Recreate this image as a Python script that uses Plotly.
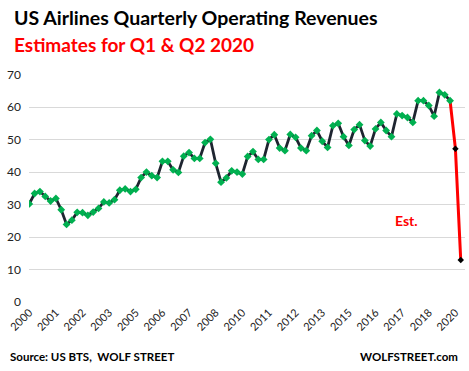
import plotly.graph_objects as go

# Quarterly categories 2000 Q1 .. 2020 Q2
years = list(range(2000, 2021))
quarters = [f"{y} Q{q}" for y in years for q in range(1, 5)][:82]

# Operating revenues, $ billions, 2000 Q1 .. 2019 Q4
revenues = [
    30.2, 33.4, 34.0, 32.5,   # 2000
    31.1, 31.9, 28.4, 23.9,   # 2001
    25.2, 27.6, 27.5, 26.7,   # 2002
    27.7, 28.8, 30.8, 30.5,   # 2003
    31.5, 34.4, 34.8, 34.0,   # 2004
    34.7, 38.3, 40.0, 38.9,   # 2005
    38.3, 43.3, 43.3, 40.7,   # 2006
    39.9, 44.9, 46.0, 44.2,   # 2007
    44.2, 49.1, 50.1, 42.7,   # 2008
    36.9, 38.2, 40.4, 40.0,   # 2009
    39.4, 44.8, 46.3, 43.9,   # 2010
    43.9, 50.0, 51.5, 47.4,   # 2011
    46.6, 51.6, 50.7, 47.4,   # 2012
    46.6, 51.2, 52.8, 49.5,   # 2013
    47.6, 54.3, 55.0, 50.9,   # 2014
    48.2, 53.1, 54.6, 49.7,   # 2015
    48.0, 53.3, 55.3, 52.8,   # 2016
    50.9, 57.9, 57.4, 56.8,   # 2017
    55.3, 62.0, 62.0, 60.5,   # 2018
    57.2, 64.5, 63.8, 62.0,   # 2019
]
# Estimates for 2020 Q1, Q2
estimates = [47.2, 12.9]

tick_text = ["2000", "2001", "2002", "2003", "2005", "2006", "2007", "2008",
             "2010", "2011", "2012", "2013", "2015", "2016", "2017", "2018", "2020"]
tick_vals = quarters[::5]

y_ticks = [0, 10, 20, 30, 40, 50, 60, 70]

n_act = len(revenues)
est_x = quarters[n_act - 1:n_act + len(estimates)]
est_y = [revenues[-1]] + estimates

FONT = "Lato"

fig = go.Figure()
fig.add_trace(go.Scatter(
    x=est_x, y=est_y, mode="lines",
    line=dict(color="#ff0000", width=3), hoverinfo="skip", showlegend=False,
    cliponaxis=False))
fig.add_trace(go.Scatter(
    x=quarters[:n_act], y=revenues, mode="lines+markers",
    line=dict(color="#1e2530", width=2.8),
    marker=dict(symbol="diamond", size=6, color="#00b050"),
    showlegend=False))
fig.add_trace(go.Scatter(
    x=quarters[n_act:n_act + len(estimates)], y=estimates, mode="markers",
    marker=dict(symbol="diamond", size=5, color="#000000"),
    showlegend=False, cliponaxis=False))

fig.update_layout(
    width=469, height=371,
    margin=dict(l=29, r=4, t=74, b=69),
    paper_bgcolor="white", plot_bgcolor="white",
    font=dict(family=FONT, color="#222222"),
    xaxis=dict(
        type="category", categoryorder="array", categoryarray=quarters,
        range=[-0.05, 81.8], automargin=False,
        tickmode="array", tickvals=tick_vals, ticktext=tick_text,
        tickangle=-45, tickfont=dict(size=11, family=FONT, color="#222222"),
        ticklabelstandoff=1,
        showgrid=False, showline=False, zeroline=False, ticks="",
    ),
    yaxis=dict(
        range=[0, 70.2], tickmode="array", tickvals=y_ticks, automargin=False,
        tickfont=dict(size=12, family=FONT, color="#222222"),
        ticklabelstandoff=7,
        showgrid=True, gridcolor="#d9d9d9", gridwidth=1,
        zeroline=False, showline=False, ticks="",
    ),
    annotations=[
        dict(text="<b>US Airlines Quarterly Operating Revenues</b>",
             xref="paper", yref="paper", x=-0.039, y=1.25,
             xanchor="left", yanchor="middle", showarrow=False,
             font=dict(size=19.5, family=FONT, color="#000000")),
        dict(text="<b>Estimates for Q1 &amp; Q2 2020</b>",
             xref="paper", yref="paper", x=-0.039, y=1.13,
             xanchor="left", yanchor="middle", showarrow=False,
             font=dict(size=19, family=FONT, color="#ff0000")),
        dict(text="<b>Est.</b>",
             xref="paper", yref="y", x=0.865, y=25,
             xanchor="center", yanchor="middle", showarrow=False,
             font=dict(size=14, family=FONT, color="#ff0000")),
        dict(text="<b>Source: US BTS,  WOLF STREET</b>",
             xref="paper", yref="paper", x=-0.048, y=-0.237,
             xanchor="left", yanchor="middle", showarrow=False,
             font=dict(size=11.5, family=FONT, color="#000000")),
        dict(text="<b>WOLFSTREET.com</b>",
             xref="paper", yref="paper", x=0.9885, y=-0.237,
             xanchor="right", yanchor="middle", showarrow=False,
             font=dict(size=11.5, family=FONT, color="#000000")),
    ],
)

fig.write_html(
    "out.html",
    config={"displayModeBar": False},
    post_script="document.body.style.margin='0';document.body.style.overflow='hidden';",
)
